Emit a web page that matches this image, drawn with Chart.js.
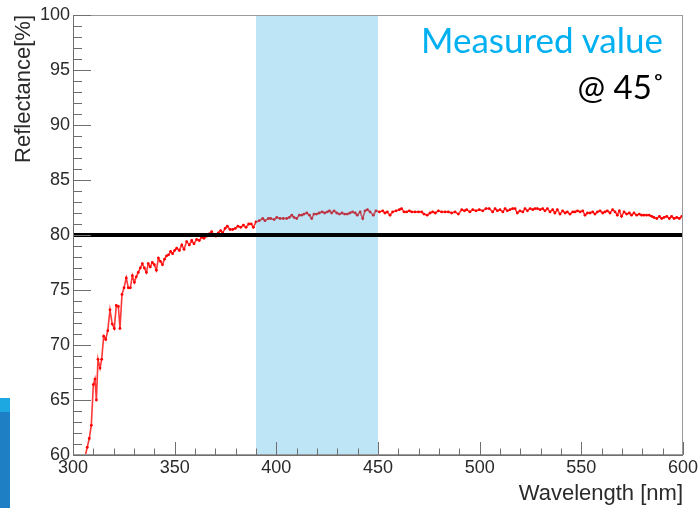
<!DOCTYPE html>
<html>
<head>
<meta charset="utf-8">
<title>Reflectance vs wavelength</title>
<script src="https://cdn.jsdelivr.net/npm/chart.js@4.4.1/dist/chart.umd.min.js"></script>
<style>
  html, body { margin: 0; padding: 0; background: #fff; }
  #wrap { position: relative; width: 698px; height: 508px; overflow: hidden; }
  #note1, #note2 { position: absolute; right: 35px; font-family: Lato, "Open Sans", sans-serif; white-space: nowrap; }
  #note1 { top: 18px; font-size: 35px; color: #00b0f0; }
  #note2 { top: 66px; font-size: 33px; color: #000; right: 33px; }
  .deco { position: absolute; left: 0; width: 10px; }
</style>
</head>
<body>
<div id="wrap">
  <canvas id="chart"></canvas>
  <div id="note1">Measured value</div>
  <div id="note2">@ 45˚</div>
  <div class="deco" style="top:398px;height:14px;background:#1ea8e2"></div>
  <div class="deco" style="top:412px;height:96px;background:#1f7fc4"></div>
</div>
<script>
// measured spectrum
const wavelengths = [
  306, 307, 308, 309, 310, 310.8, 311.5, 312.3, 313.3, 314.1, 315.1, 316.1, 317.1, 318.2, 319.3, 320.3,
  321.3, 322.3, 323.1, 324.1, 325.1, 326.2, 327.2, 328.2, 329.2, 330.2, 331.1, 332.1, 333.1, 334.1,
  335.1, 336.1, 337, 338, 339, 340, 341, 342, 343, 344, 345, 346, 347, 348, 349, 350,
  351, 352.3, 353.5, 354.6, 355.9, 357.2, 358.4, 359.5, 360.8, 362.1, 363.3, 364.4, 365.8, 367,
  368.2, 369.3, 370.3, 371.5, 372.6, 373.6, 374.8, 375.9, 377.2, 378.5, 379.8, 381.1, 382.5, 383.8,
  385.1, 386.4, 387.7, 388.7, 390, 391.6, 393.3, 394.4, 396.1, 397.2, 398.9, 400.2, 401.8, 403.4,
  405.1, 406.4, 407.6, 408.7, 410, 411.3, 412.5, 413.6, 415, 416.3, 417.4, 418.5, 419.8, 421.1,
  422.5, 423.8, 425.1, 426.1, 427.2, 428.4, 429.7, 431, 432.3, 433.6, 434.9, 436.2, 437.5, 438.8,
  439.8, 441.2, 442.5, 443.6, 444.8, 446.1, 447.7, 449, 450.7, 452.3, 453.4, 454.6, 455.9, 457.2,
  458.9, 460.5, 461.6, 462.8, 464.1, 465.4, 466.6, 468.2, 469.9, 471.5, 472.6, 474.2, 475.6, 476.9,
  478.2, 479.7, 481.3, 483, 484.6, 486.2, 487.9, 489.5, 491.2, 492.5, 493.6, 495.2, 496.6, 498.2,
  499.8, 501.5, 503.1, 504.7, 506.4, 507.6, 508.7, 510, 511.4, 512.5, 513.6, 514.9, 516.2, 517.4,
  518.5, 519.8, 521.2, 522.3, 523.5, 524.8, 526.1, 527.2, 528.4, 529.7, 531, 532.1, 533.3, 534.6,
  535.9, 537, 538.2, 539.5, 540.8, 542, 543.1, 544.4, 545.8, 546.9, 548.1, 549.4, 550.7, 551.8,
  553, 554.3, 555.6, 556.7, 557.9, 559.2, 560.5, 561.6, 562.8, 564.1, 565.4, 566.6, 567.7, 568.7,
  569.8, 571, 572.3, 573.6, 574.7, 575.9, 577.2, 578.5, 579.7, 580.8, 582.1, 583.4, 584.6, 585.7,
  587.1, 588.4, 589.5, 590.7, 592, 593.3, 594.4, 595.6, 596.9, 598.2, 599.4, 600
];
const reflectance = [
  59.9, 60.7, 61.5, 62.7, 66.4, 66.9, 65.0, 68.7, 67.9, 68.7, 70.8, 70.5, 71.3, 73.2, 71.9, 71.5,
  73.6, 73.5, 71.5, 74.6, 75.2, 76.1, 75.2, 75.2, 76.3, 75.7, 76.2, 76.6, 77.0, 77.4,
  77.0, 76.6, 77.4, 77.1, 77.5, 77.3, 76.8, 77.9, 77.6, 77.3, 77.8, 78.1, 78.2, 78.5, 78.3, 78.6,
  78.8, 78.6, 79.1, 78.7, 79.4, 79.1, 79.5, 79.2, 79.6, 79.5, 79.8, 79.7, 79.9, 80.1,
  80.3, 80.0, 79.9, 80.2, 80.4, 80.2, 80.6, 80.8, 80.5, 80.5, 80.6, 80.8, 80.7, 80.9,
  80.7, 81.0, 81.0, 80.7, 81.2, 81.3, 81.5, 81.3, 81.5, 81.5, 81.4, 81.6, 81.5, 81.5,
  81.5, 81.6, 81.8, 81.6, 81.5, 81.8, 81.8, 81.9, 82.0, 81.8, 81.5, 81.9, 81.9, 82.0,
  82.1, 82.0, 82.1, 82.2, 82.0, 82.2, 82.0, 81.9, 82.0, 81.9, 81.9, 82.0, 82.1, 82.0,
  81.8, 82.1, 81.5, 82.2, 82.3, 82.1, 81.8, 82.2, 82.1, 82.2, 82.0, 82.1, 81.8, 82.1,
  82.2, 82.3, 82.4, 82.1, 82.1, 82.2, 82.1, 82.1, 82.1, 82.1, 81.9, 81.8, 82.0, 82.1,
  82.0, 82.2, 82.1, 82.1, 82.1, 82.0, 82.1, 81.9, 82.3, 82.2, 82.3, 82.1, 82.3, 82.2,
  82.3, 82.2, 82.4, 82.4, 82.1, 82.4, 82.2, 82.3, 82.1, 82.4, 82.2, 82.3, 82.4, 82.4,
  82.0, 82.2, 82.1, 82.4, 82.2, 82.4, 82.3, 82.4, 82.4, 82.3, 82.4, 82.2, 82.4, 82.1,
  82.3, 82.0, 82.3, 81.9, 82.2, 82.0, 82.1, 81.9, 82.1, 82.1, 82.2, 82.1, 82.2, 81.8,
  82.0, 82.0, 82.1, 81.9, 82.1, 82.2, 82.0, 82.1, 82.2, 82.0, 82.3, 82.1, 81.8, 82.2,
  81.7, 82.1, 81.9, 82.0, 81.8, 82.0, 81.8, 81.9, 81.8, 81.8, 81.8, 81.8, 81.7, 81.6,
  81.5, 81.7, 81.5, 81.6, 81.7, 81.5, 81.7, 81.5, 81.6, 81.5, 81.7, 81.6
];

const bandRange = [390, 450];      // highlighted wavelength window
const thresholdValue = 80;         // reference level
const xRange = [300, 600];
const yRange = [60, 100];
const xTickLabels = [300, 350, 400, 450, 500, 550, 600];
const yTickLabels = [60, 65, 70, 75, 80, 85, 90, 95, 100];
const xMinorStep = 10;
const yMinorStep = 1;

const TICK_COLOR = '#6f6f6f';
const FONT = 'Liberation Sans, Arial, Helvetica, sans-serif';

// ROOT style: ticks inside the frame, grey box
const rootFrame = {
    id: 'rootFrame',
    afterDraw(chart) {
        const { ctx, chartArea: a, scales: { x, y } } = chart;
        ctx.save();
        ctx.lineWidth = 1;
        ctx.strokeStyle = '#9a9a9a';
        ctx.strokeRect(a.left + 0.5, a.top + 0.5, a.right - a.left - 1, a.bottom - a.top - 1);

        ctx.strokeStyle = TICK_COLOR;
        ctx.beginPath();
        ctx.moveTo(a.left + 0.5, a.top);
        ctx.lineTo(a.left + 0.5, a.bottom + 0.5);
        ctx.lineTo(a.right, a.bottom + 0.5);

        for (let v = xRange[0]; v <= xRange[1]; v += xMinorStep) {
            const px = Math.round(x.getPixelForValue(v)) + 0.5;
            const len = xTickLabels.includes(v) ? 13 : 6.5;
            ctx.moveTo(px, a.bottom);
            ctx.lineTo(px, a.bottom - len);
        }
        for (let v = yRange[0]; v <= yRange[1]; v += yMinorStep) {
            const py = Math.round(y.getPixelForValue(v)) + 0.5;
            const len = yTickLabels.includes(v) ? 18 : 9;
            ctx.moveTo(a.left, py);
            ctx.lineTo(a.left + len, py);
        }
        ctx.stroke();
        ctx.restore();
    }
};

const ctx = document.getElementById('chart').getContext('2d');
new Chart(ctx, {
    type: 'scatter',
    data: {
        datasets: [
            {
                // threshold line, on top
                data: [{ x: xRange[0], y: thresholdValue }, { x: xRange[1], y: thresholdValue }],
                showLine: true,
                borderColor: '#000',
                borderWidth: 4,
                pointRadius: 0,
                order: 1
            },
            {
                // highlighted band, translucent over the curve
                data: [{ x: bandRange[0], y: yRange[1] }, { x: bandRange[1], y: yRange[1] }],
                showLine: true,
                borderWidth: 0,
                pointRadius: 0,
                fill: 'start',
                backgroundColor: 'rgba(35, 168, 222, 0.30)',
                order: 2
            },
            {
                data: wavelengths.map((w, i) => ({ x: w, y: reflectance[i] })),
                showLine: true,
                borderColor: 'rgba(255, 20, 20, 0.85)',
                borderWidth: 1.6,
                pointRadius: 1.4,
                pointBorderWidth: 0,
                pointBackgroundColor: '#ff0000',
                order: 3
            }
        ]
    },
    options: {
        responsive: true,
        maintainAspectRatio: false,
        animation: false,
        layout: { padding: { left: 0, top: 15, right: 15, bottom: 0 } },
        plugins: {
            legend: { display: false },
            tooltip: { enabled: false }
        },
        scales: {
            x: {
                type: 'linear',
                min: xRange[0],
                max: xRange[1],
                afterBuildTicks: (s) => { s.ticks = xTickLabels.map(v => ({ value: v })); },
                afterFit: (s) => { s.height = 53; s.paddingLeft = 0; s.paddingRight = 0; },
                grid: { display: false, drawTicks: false },
                border: { display: false },
                ticks: {
                    autoSkip: false,
                    maxRotation: 0,
                    padding: 2,
                    color: '#2a2a2a',
                    font: { family: FONT, size: 18 }
                },
                title: {
                    display: true,
                    text: 'Wavelength [nm]',
                    align: 'end',
                    color: '#2a2a2a',
                    padding: { top: 0, bottom: 1 },
                    font: { family: FONT, size: 22 }
                }
            },
            y: {
                type: 'linear',
                min: yRange[0],
                max: yRange[1],
                afterBuildTicks: (s) => { s.ticks = yTickLabels.map(v => ({ value: v })); },
                afterFit: (s) => { s.width = 73; s.paddingTop = 0; s.paddingBottom = 0; },
                grid: { display: false, drawTicks: false },
                border: { display: false },
                ticks: {
                    padding: 3,
                    color: '#2a2a2a',
                    font: { family: FONT, size: 18 }
                },
                title: {
                    display: true,
                    text: 'Reflectance[%]',
                    align: 'end',
                    color: '#2a2a2a',
                    padding: { top: 11, bottom: 0 },
                    font: { family: FONT, size: 22 }
                }
            }
        }
    },
    plugins: [rootFrame]
});
</script>
</body>
</html>
